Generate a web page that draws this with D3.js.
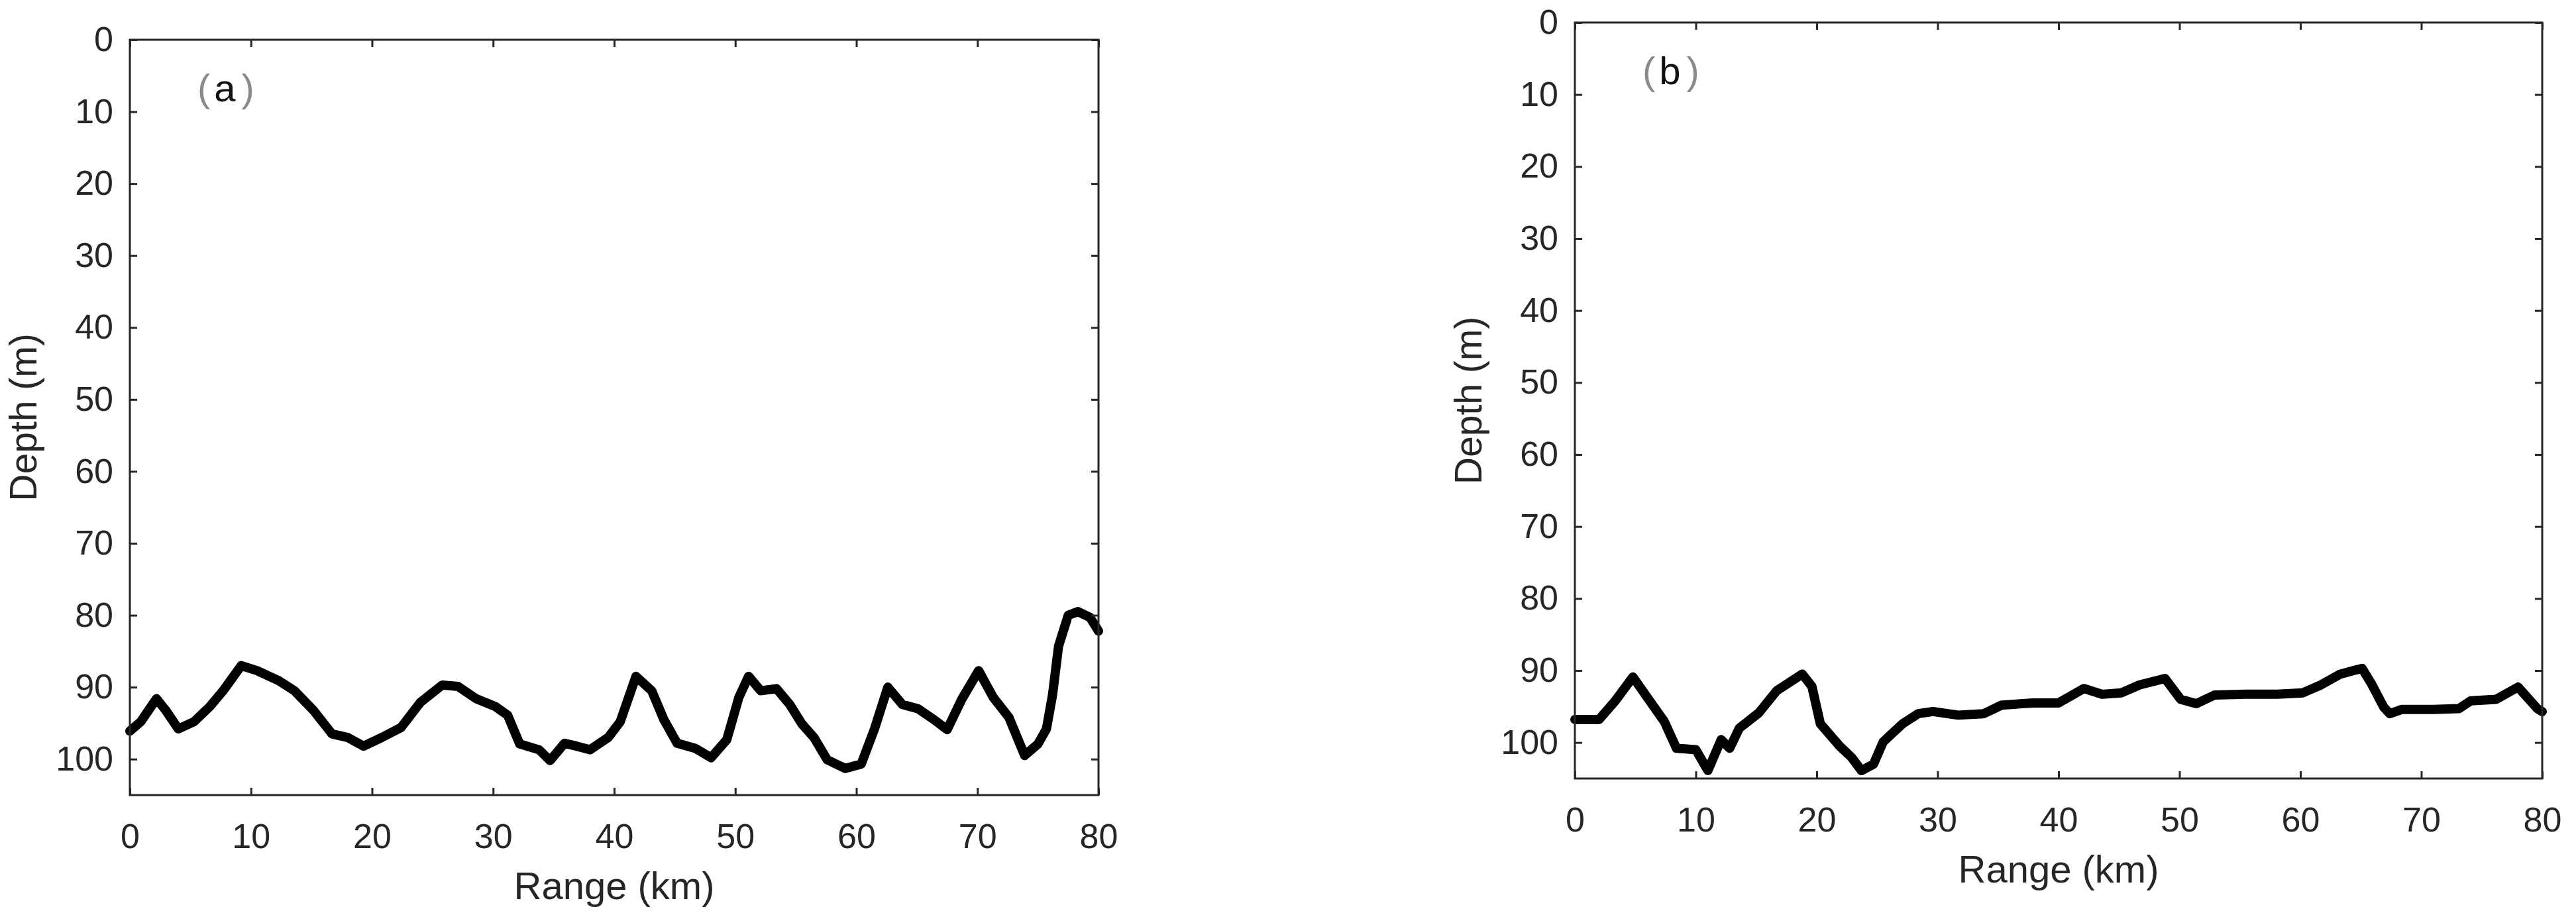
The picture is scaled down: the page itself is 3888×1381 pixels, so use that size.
<!DOCTYPE html>
<html>
<head>
<meta charset="utf-8">
<script src="https://cdn.jsdelivr.net/npm/d3@7"></script>
<style>
  html, body { margin: 0; padding: 0; background: #fff; }
  svg { display: block; }
</style>
</head>
<body>
<svg id="chart" width="3888" height="1381"></svg>
<script>
// ---------- data ----------
const rangeTicks = [0, 10, 20, 30, 40, 50, 60, 70, 80];
const depthTicks = [0, 10, 20, 30, 40, 50, 60, 70, 80, 90, 100];

const rangeA = [0, 0.9, 2.2, 3.0, 4.0, 5.3, 6.6, 7.7, 9.2, 10.5, 12.3, 13.6, 15.2, 16.7, 18.0, 19.3, 20.8, 22.4, 24.0, 25.8, 27.1, 28.6, 30.2, 31.2, 32.2, 33.8, 34.7, 35.9, 36.9, 38.0, 39.5, 40.5, 41.8, 43.1, 44.1, 45.2, 46.7, 48.0, 49.3, 50.3, 51.1, 52.1, 53.4, 54.5, 55.5, 56.5, 57.6, 59.1, 60.4, 61.5, 62.6, 63.8, 65.1, 66.4, 67.5, 68.7, 70.1, 71.3, 72.6, 73.9, 75.0, 75.7, 76.2, 76.7, 77.5, 78.3, 79.3, 80.0];
const depthA = [96.1, 94.8, 91.6, 93.3, 95.8, 94.8, 92.7, 90.5, 87.0, 87.7, 89.1, 90.5, 93.3, 96.5, 97.0, 98.2, 97.0, 95.6, 92.1, 89.7, 89.9, 91.6, 92.7, 93.9, 97.9, 98.7, 100.2, 97.8, 98.2, 98.7, 97.0, 94.8, 88.5, 90.5, 94.5, 97.8, 98.5, 99.8, 97.3, 91.4, 88.5, 90.5, 90.2, 92.4, 95.1, 97.0, 100.1, 101.3, 100.7, 95.8, 90.0, 92.4, 93.0, 94.5, 95.9, 91.7, 87.7, 91.4, 94.2, 99.5, 97.9, 95.8, 91.1, 84.3, 80.0, 79.5, 80.3, 82.2];

const rangeB = [0, 1.0, 2.0, 3.3, 4.8, 6.1, 7.4, 8.4, 10.0, 11.0, 12.1, 12.8, 13.6, 15.2, 16.7, 18.8, 19.6, 20.3, 21.9, 22.9, 23.7, 24.7, 25.5, 27.1, 28.4, 29.6, 31.7, 33.8, 35.3, 37.9, 40.0, 42.1, 43.6, 45.2, 46.7, 48.8, 50.1, 51.4, 52.9, 55.5, 58.1, 60.2, 61.7, 63.3, 65.1, 65.9, 66.9, 67.4, 68.4, 71.0, 73.1, 74.1, 76.2, 78.0, 79.6, 80.0];
const depthB = [96.8, 96.8, 96.8, 94.3, 90.9, 94.0, 97.1, 100.8, 101.0, 103.9, 99.6, 100.8, 98.0, 95.9, 92.8, 90.5, 92.2, 97.4, 100.5, 102.1, 103.9, 103.0, 99.9, 97.4, 96.0, 95.7, 96.2, 96.0, 94.8, 94.5, 94.5, 92.5, 93.3, 93.1, 92.0, 91.1, 94.0, 94.6, 93.4, 93.3, 93.3, 93.1, 92.0, 90.5, 89.7, 91.9, 95.1, 96.0, 95.4, 95.4, 95.3, 94.2, 94.0, 92.3, 95.3, 95.7];

const panelLabels = ["a", "b"];
const xTitle = "Range (km)";
const yTitle = "Depth (m)";

// ---------- layout ----------
const panels = [
  { left: 196, top: 60, right: 1658, bottom: 1200, xs: rangeA, ys: depthA, label: panelLabels[0] },
  { left: 2377, top: 34, right: 3837, bottom: 1175, xs: rangeB, ys: depthB, label: panelLabels[1] }
];

const AX = "#262626";
const FONT = "'Liberation Sans', Arial, Helvetica, sans-serif";
const svg = d3.select("#chart");

panels.forEach(p => {
  const x = d3.scaleLinear().domain([0, 80]).range([p.left, p.right]);
  const y = d3.scaleLinear().domain([0, 105]).range([p.top, p.bottom]);
  const g = svg.append("g");

  // line
  const pts = p.xs.map((v, i) => [v, p.ys[i]]);
  g.append("path")
    .datum(pts)
    .attr("fill", "none")
    .attr("stroke", "#000")
    .attr("stroke-width", 14)
    .attr("stroke-linejoin", "round")
    .attr("stroke-linecap", "round")
    .attr("d", d3.line().x(d => x(d[0])).y(d => y(d[1])));

  // axes
  const styleAxis = sel => {
    sel.select(".domain").remove();
    sel.selectAll(".tick line").attr("stroke", AX).attr("stroke-width", 3);
    sel.selectAll(".tick text").attr("fill", AX).style("font-family", FONT).style("font-size", "52px");
  };

  g.append("g").attr("transform", `translate(0,${p.bottom})`)
    .call(d3.axisBottom(x).tickValues(rangeTicks).tickSizeInner(-11).tickSizeOuter(0).tickPadding(43))
    .call(styleAxis);
  g.append("g").attr("transform", `translate(0,${p.top})`)
    .call(d3.axisTop(x).tickValues(rangeTicks).tickSizeInner(-11).tickSizeOuter(0).tickFormat(""))
    .call(styleAxis);
  g.append("g").attr("transform", `translate(${p.left},0)`)
    .call(d3.axisLeft(y).tickValues(depthTicks).tickSizeInner(-11).tickSizeOuter(0).tickPadding(25))
    .call(styleAxis);
  g.append("g").attr("transform", `translate(${p.right},0)`)
    .call(d3.axisRight(y).tickValues(depthTicks).tickSizeInner(-11).tickSizeOuter(0).tickFormat(""))
    .call(styleAxis);

  // box
  g.append("rect")
    .attr("x", p.left).attr("y", p.top)
    .attr("width", p.right - p.left).attr("height", p.bottom - p.top)
    .attr("fill", "none").attr("stroke", AX).attr("stroke-width", 3);

  // axis titles
  g.append("text")
    .attr("x", (p.left + p.right) / 2).attr("y", p.bottom + 157)
    .attr("text-anchor", "middle")
    .attr("fill", AX).style("font-family", FONT).style("font-size", "58px")
    .text(xTitle);
  g.append("text")
    .attr("transform", `translate(${p.left - 141},${(p.top + p.bottom) / 2}) rotate(-90)`)
    .attr("text-anchor", "middle")
    .attr("fill", AX).style("font-family", FONT).style("font-size", "57px")
    .text(yTitle);

  // panel label
  const t = g.append("text")
    .attr("x", p.left + 102).attr("y", p.top + 93)
    .style("font-family", FONT).style("font-size", "58px");
  t.append("tspan").attr("fill", "#8a8a8a").style("font-weight", "300").text("(");
  t.append("tspan").attr("fill", "#111").attr("dx", 6).text(p.label);
  t.append("tspan").attr("fill", "#8a8a8a").attr("dx", 9).style("font-weight", "300").text(")");
});
</script>
</body>
</html>
